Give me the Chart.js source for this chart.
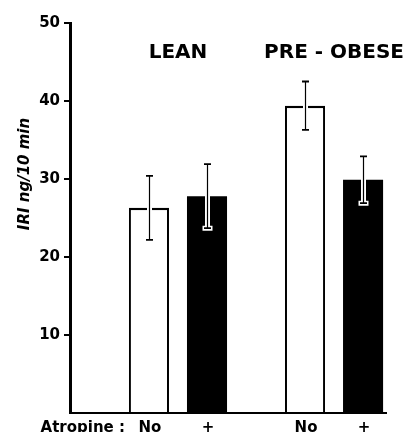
<!DOCTYPE html>
<html>
<head>
<meta charset="utf-8">
<script src="https://cdn.jsdelivr.net/npm/chart.js@4"></script>
<style>
	html, body { margin: 0; padding: 0; background: #fff; }
	#wrap { width: 411px; height: 432px; }
</style>
</head>
<body>
<div id="wrap"><canvas id="c"></canvas></div>
<script>
// values
var groups = ['LEAN', 'PRE - OBESE'];
var atropineLabels = ['No', '+'];
var meanNo = [26.3, 39.4];
var semNo = [4.1, 3.1];
var meanYes = [27.8, 29.9];
var semYes = [4.1, 3.0];
var yTicks = [10, 20, 30, 40, 50];

var FONT = '"DejaVu Sans", "Liberation Sans", sans-serif';

function toPoints(values) {
	// group index (1, 2) on a linear x axis
	return values.map(function(v, i) { return {x: i + 1, y: v}; });
}

var errorBars = {
	id: 'errorBars',
	afterDatasetsDraw: function(chart) {
		var ctx = chart.ctx;
		var y = chart.scales.y;
		ctx.save();
		chart.data.datasets.forEach(function(ds, di) {
			var meta = chart.getDatasetMeta(di);
			meta.data.forEach(function(bar, i) {
				var m = ds.data[i].y, s = ds.sem[i];
				var top = y.getPixelForValue(m + s);
				var bot = y.getPixelForValue(m - s);
				var x = Math.round(bar.x) + 0.5;
				// white halo first
				ctx.strokeStyle = '#fff';
				ctx.lineWidth = 5;
				ctx.beginPath();
				ctx.moveTo(x, top - 1); ctx.lineTo(x, bot + 1);
				ctx.moveTo(x - 5, top); ctx.lineTo(x + 5, top);
				ctx.moveTo(x - 5, bot); ctx.lineTo(x + 5, bot);
				ctx.stroke();
				ctx.strokeStyle = '#000';
				ctx.lineWidth = 1.2;
				ctx.beginPath();
				ctx.moveTo(x, top); ctx.lineTo(x, bot);
				ctx.stroke();
				ctx.lineWidth = 1.8;
				ctx.beginPath();
				ctx.moveTo(x - 3.5, top); ctx.lineTo(x + 3.5, top);
				ctx.moveTo(x - 3.5, bot); ctx.lineTo(x + 3.5, bot);
				ctx.stroke();
			});
		});
		ctx.restore();
	}
};

var figureText = {
	id: 'figureText',
	afterDraw: function(chart) {
		var ctx = chart.ctx;
		var xs = chart.scales.x;
		ctx.save();
		ctx.fillStyle = '#000';
		ctx.textBaseline = 'alphabetic';
		ctx.textAlign = 'center';
		// group names over the bars
		ctx.font = 'bold 20px ' + FONT;
		groups.forEach(function(g, i) {
			ctx.fillText(g, xs.getPixelForValue(i + 1), 58);
		});
		// atropine row under the axis
		ctx.font = 'bold 15px ' + FONT;
		chart.data.datasets.forEach(function(ds, di) {
			chart.getDatasetMeta(di).data.forEach(function(bar) {
				ctx.fillText(ds.label, bar.x + 1, 432);
			});
		});
		ctx.textAlign = 'right';
		ctx.fillText('Atropine :', 125, 432);
		// y title
		ctx.translate(25, 174);
		ctx.rotate(-Math.PI / 2);
		ctx.textAlign = 'center';
		ctx.textBaseline = 'middle';
		ctx.font = 'italic bold 15px ' + FONT;
		ctx.fillText('IRI ng/10 min', 0, 0);
		ctx.restore();
	}
};

new Chart(document.getElementById('c'), {
	type: 'bar',
	data: {
		datasets: [{
			label: atropineLabels[0],
			data: toPoints(meanNo),
			sem: semNo,
			backgroundColor: '#fff',
			borderColor: '#000',
			borderWidth: {top: 2.5, left: 2, right: 2, bottom: 0},
			borderSkipped: 'bottom'
		}, {
			label: atropineLabels[1],
			data: toPoints(meanYes),
			sem: semYes,
			backgroundColor: '#000',
			borderWidth: 0
		}]
	},
	options: {
		responsive: true,
		maintainAspectRatio: false,
		animation: false,
		categoryPercentage: 0.744,
		barPercentage: 0.69,
		layout: {padding: {top: 23, right: 25, bottom: 19, left: 0}},
		plugins: {legend: {display: false}, tooltip: {enabled: false}},
		scales: {
			x: {
				type: 'linear',
				offset: false,
				min: 0.308,
				max: 2.333,
				afterBuildTicks: function(scale) {
					scale.ticks = groups.map(function(g, i) { return {value: i + 1}; });
				},
				ticks: {display: false},
				grid: {display: false, drawTicks: false},
				border: {display: true, color: '#000', width: 2},
				afterFit: function(scale) { scale.height = 0; }
			},
			y: {
				min: 0,
				max: 50,
				afterBuildTicks: function(scale) {
					scale.ticks = [{value: 0}].concat(yTicks.map(function(v) { return {value: v}; }));
				},
				ticks: {
					color: '#000',
					padding: 4,
					font: {family: FONT, size: 15, weight: 'bold'},
					callback: function(v) { return v === 0 ? '' : v; }
				},
				grid: {
					drawOnChartArea: false,
					drawTicks: true,
					tickLength: 6,
					lineWidth: 2,
					color: function(c) { return c.tick && c.tick.value === 0 ? 'rgba(0,0,0,0)' : '#000'; }
				},
				border: {display: true, color: '#000', width: 3},
				afterFit: function(scale) { scale.width = 70; }
			}
		}
	},
	plugins: [errorBars, figureText]
});
</script>
</body>
</html>
